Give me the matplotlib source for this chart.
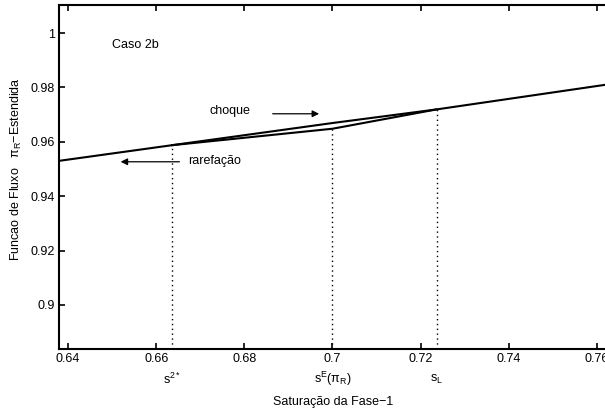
import matplotlib
matplotlib.use("Agg")
import matplotlib.pyplot as plt
import matplotlib.transforms as mtransforms

plt.rcParams['font.family'] = ['Liberation Sans', 'DejaVu Sans']
plt.rcParams['mathtext.fontset'] = 'custom'
plt.rcParams['mathtext.rm'] = 'Liberation Sans'
plt.rcParams['mathtext.it'] = 'Liberation Sans'

# extended flux function (nearly straight over this window)
flux_s = [0.638, 0.6636, 0.70, 0.7236, 0.7625]
flux_v = [0.9530, 0.95875, 0.9669, 0.9719, 0.9811]

# rarefaction + shock path between s2* and sL
path_s = [0.6636, 0.70, 0.7236]
path_v = [0.95875, 0.9648, 0.9719]

# marked saturations
s_marks = [0.6636, 0.70, 0.7236]
v_marks = [0.95875, 0.9648, 0.9719]
mark_labels = [r"s$^{2*}$", r"s$^{E}(\mathrm{\pi}_\mathrm{R})$", r"s$_\mathrm{L}$"]

xticks = [0.64, 0.66, 0.68, 0.70, 0.72, 0.74, 0.76]
xticklabels = ["0.64", "0.66", "0.68", "0.7", "0.72", "0.74", "0.76"]
yticks = [0.90, 0.92, 0.94, 0.96, 0.98, 1.00]
yticklabels = ["0.9", "0.92", "0.94", "0.96", "0.98", "1"]

fs = 9

fig = plt.figure(figsize=(6.05, 4.16), dpi=100)
ax = fig.add_axes([0.0979, 0.161, 0.907, 0.827])

ax.plot(flux_s, flux_v, color='black', lw=1.5)
ax.plot(path_s, path_v, color='black', lw=1.5)

for s, v in zip(s_marks, v_marks):
    ax.plot([s, s], [0.8838, v], color='black', lw=1, linestyle=(0, (1, 2.5)))

ax.set_xlim(0.638, 0.7625)
ax.set_ylim(0.8838, 1.0103)

ax.set_xticks(xticks)
ax.set_xticklabels(xticklabels)
ax.set_yticks(yticks)
ax.set_yticklabels(yticklabels)
ax.tick_params(direction='in', length=4, width=1.2, labelsize=fs, top=True, right=False, pad=3)
for sp in ax.spines.values():
    sp.set_linewidth(1.5)
ax.spines['right'].set_visible(False)

# labels for the marked saturations, under the tick labels
trans = mtransforms.blended_transform_factory(ax.transData, ax.transAxes)
for s, lab in zip(s_marks, mark_labels):
    ax.text(s, -0.088, lab, transform=trans, ha='center', va='center', fontsize=fs)

ax.text(0.650, 0.9957, "Caso 2b", fontsize=fs, va='center')
ax.text(0.6722, 0.9712, "choque", fontsize=fs, va='center')
ax.text(0.6672, 0.9528, "rarefação", fontsize=fs, va='center')

ax.annotate("", xy=(0.6976, 0.9703), xytext=(0.6858, 0.9703),
            arrowprops=dict(arrowstyle='-|>', color='black', lw=0.9, mutation_scale=10))
ax.annotate("", xy=(0.6513, 0.95265), xytext=(0.6659, 0.95265),
            arrowprops=dict(arrowstyle='-|>', color='black', lw=0.9, mutation_scale=10))

ax.set_xlabel("Saturação da Fase−1", fontsize=fs, labelpad=22)
ax.set_ylabel(r"Funcao de Fluxo   $\mathrm{\pi}_\mathrm{R}$−Estendida", fontsize=fs)
ax.yaxis.set_label_coords(-0.064, 0.522)

fig.savefig("out.png", dpi=100)
